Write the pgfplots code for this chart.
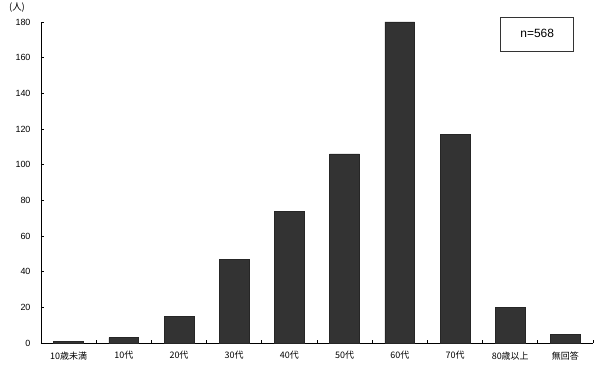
\documentclass[border=0pt]{standalone}
\usepackage{pgfplots}
\pgfplotsset{compat=1.18}
\usepackage{fontspec}
\setmainfont{Liberation Sans}
\newfontfamily\cjk{Noto Sans CJK JP}
\begin{document}
\begin{tikzpicture}
\useasboundingbox (-41bp,-28bp) rectangle (560bp,343bp);
\begin{axis}[
  at={(0,0)}, anchor=south west,
  scale only axis, width=552bp, height=321bp,
  xmin=-0.5, xmax=9.5, ymin=0, ymax=180,
  axis x line*=bottom, axis y line*=left,
  axis line style={line width=1pt, -},
  ytick={0,20,...,180},
  xtick={0,...,9},
  xticklabels={10歳未満,10代,20代,30代,40代,50代,60代,70代,80歳以上,無回答},
  minor xtick={-0.5,0.5,...,9.5},
  major x tick style={draw=none},
  minor tick length=3bp,
  major tick length=3bp,
  tick align=inside,
  tick style={black, line width=0.8pt},
  yticklabel style={font=\fontsize{9}{10}\selectfont, xshift=-7bp},
  xticklabel style={font=\cjk\fontsize{9}{10}\selectfont, yshift=-5bp},
  /pgf/number format/assume math mode=true,
  clip=false,
]
\addplot[ybar, bar width=0.54, fill=black!80, draw=black!85, line width=0.5pt] coordinates {
(0,1) (1,3) (2,15) (3,47) (4,74) (5,106) (6,180) (7,117) (8,20) (9,5)
};
\node[draw=black!80, line width=0.6pt, minimum width=73bp, minimum height=34bp, inner sep=0pt, font=\fontsize{12}{14}\selectfont] at (rel axis cs:0.899,0.963) {n=568};
\node[font=\cjk\fontsize{9.5}{10}\selectfont] at (rel axis cs:-0.0435,1.0436) {(人)};
\end{axis}
\end{tikzpicture}
\end{document}
